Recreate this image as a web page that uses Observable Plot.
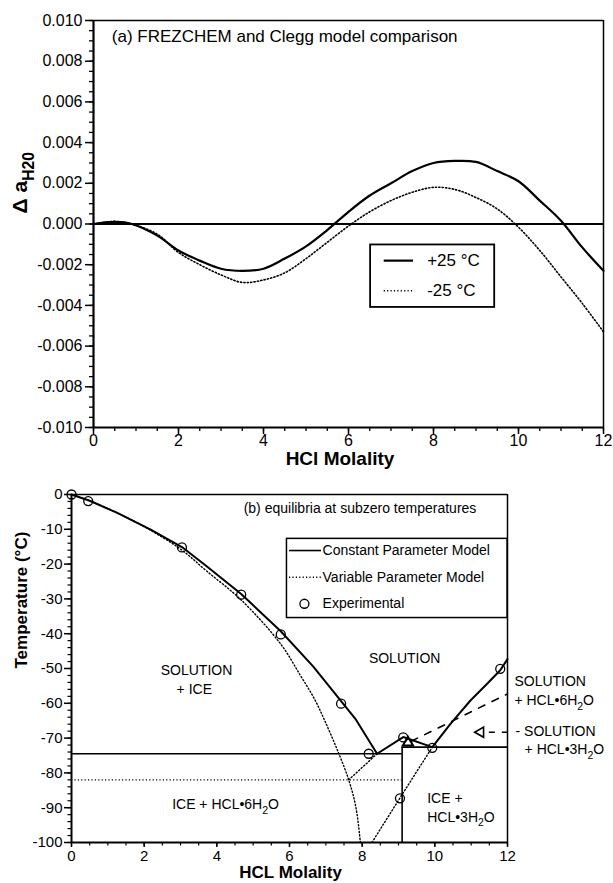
<!DOCTYPE html>
<html><head><meta charset="utf-8">
<script src="https://cdn.jsdelivr.net/npm/d3@7"></script>
<script src="https://cdn.jsdelivr.net/npm/@observablehq/plot@0.6"></script>
<style>body{margin:0;background:#fff;} #chart svg{display:block;}</style>
</head><body><div id="chart"></div>
<script>
// ---------- DATA: panel (a) ----------
const molalityA = [0, 0.5, 0.9, 1.5, 2, 2.5, 3, 3.5, 4, 4.5, 5, 5.5, 6, 6.5, 7, 7.5, 8, 8.5, 9, 9.5, 10, 10.5, 11, 11.5, 12];
const dAwPlus25 = [0, 0.0001, 0, -0.00057, -0.0013, -0.0018, -0.0022, -0.0023, -0.0022, -0.0017, -0.0011, -0.0003, 0.0006, 0.0014, 0.0020, 0.0026, 0.0030, 0.0031, 0.00305, 0.0026, 0.0021, 0.00115, 0.00016, -0.00115, -0.0023];
const dAwMinus25 = [0, 0.00013, 0, -0.0005, -0.0014, -0.0020, -0.0025, -0.00287, -0.00275, -0.0024, -0.0017, -0.0009, -0.0001, 0.0006, 0.00115, 0.00156, 0.0018, 0.0017, 0.0013, 0.00074, -0.00016, -0.0013, -0.0026, -0.0039, -0.0053];
const yTicksA = [-0.01, -0.008, -0.006, -0.004, -0.002, 0, 0.002, 0.004, 0.006, 0.008, 0.01];
const xTicks = [0, 2, 4, 6, 8, 10, 12];
const seriesA = ["+25 °C", "-25 °C"];

// ---------- DATA: panel (b) ----------
// Constant Parameter Model, ice liquidus
const constIceX = [0, 0.5, 1.26, 2.18, 3.04, 3.72, 4.67, 5.76, 6.65, 7.42, 7.83, 8.41];
const constIceT = [0, -1.8, -5.3, -10.1, -15.1, -20.6, -28.6, -39.3, -49.4, -59.4, -64.7, -74.5];
// Constant Parameter Model, hydrate liquidus
const constHydX = [8.41, 9.13, 9.93, 10.43, 10.98, 11.44, 11.8, 12];
const constHydT = [-74.5, -69.7, -72.6, -65.9, -59.2, -54.4, -50.5, -47.3];
// Variable Parameter Model
const varIceX = [0, 0.5, 1.26, 2.18, 3.04, 3.72, 4.67, 5.76, 6.3, 6.7, 6.97, 7.3, 7.63, 7.83, 7.95];
const varIceT = [0, -1.8, -5.3, -10.3, -16.0, -22, -30.3, -43, -52, -59, -65, -73, -82, -90, -100];
const var6X = [7.63, 8.41];
const var6T = [-82, -74.5];
const var3X = [8.27, 9.04, 9.93];
const var3T = [-100, -87.2, -72.6];
// metastable HCl·6H2O (dashed)
const metaX = [9.35, 12];
const metaT = [-70.9, -57.3];
// eutectic / peritectic temperatures
const eutConstT = -74.5;
const eutVarT = -82;
const peritecticT = -72.6;
const hydrateBoundaryX = 9.1;
// Experimental
const expX = [0, 0.46, 3.04, 4.67, 5.76, 7.42, 8.18, 9.13, 9.93, 9.04, 11.8];
const expT = [0, -1.9, -15.2, -28.8, -40.2, -60.1, -74.5, -69.8, -72.8, -87.3, -50.1];
const triX = [9.26];
const triT = [-71.3];
const yTicksB = [0, -10, -20, -30, -40, -50, -60, -70, -80, -90, -100];
const legendB = ["Constant Parameter Model", "Variable Parameter Model", "Experimental"];

// ---------- helpers ----------
const FONT = "'Liberation Sans', Arial, Helvetica, sans-serif";
const zip = (xs, ys) => xs.map((x, i) => ({x, y: ys[i]}));
const range = (a, b, s) => { const out = []; for (let i = 0; a + i * s <= b + 1e-9; i++) out.push(+(a + i * s).toFixed(6)); return out; };

// replace _{...} with subscript tspans
function subscripts(svg) {
  svg.querySelectorAll("text").forEach(t => {
    const s = t.textContent;
    if (!s.includes("_{")) return;
    const size = 0.75;
    const shift = 0.33;
    while (t.firstChild) t.removeChild(t.firstChild);
    const re = /_\{([^}]*)\}/g; let last = 0, m; let pendingBack = false;
    const mk = (txt) => { const e = document.createElementNS("http://www.w3.org/2000/svg", "tspan"); e.textContent = txt; t.appendChild(e); return e; };
    while ((m = re.exec(s))) {
      if (m.index > last) { const e = mk(s.slice(last, m.index)); if (pendingBack) { e.setAttribute("dy", (-shift) + "em"); pendingBack = false; } }
      const sub = mk(m[1]);
      sub.setAttribute("font-size", (size * 100) + "%");
      sub.setAttribute("dy", (shift / size) + "em");
      pendingBack = true;
      last = re.lastIndex;
    }
    if (last < s.length) { const e = mk(s.slice(last)); if (pendingBack) e.setAttribute("dy", (-shift) + "em"); }
  });
}

// ---------- panel (a) ----------
const tableA = molalityA.map((x, i) => ({x, p: dAwPlus25[i], m: dAwMinus25[i]}));
const chartA = Plot.plot({
  width: 613, height: 470,
  marginTop: 20, marginBottom: 43, marginLeft: 93, marginRight: 10,
  style: {fontFamily: FONT, fontSize: "16px", background: "white", color: "black"},
  x: {domain: [0, 12]},
  y: {domain: [-0.01, 0.01]},
  marks: [
    Plot.axisY({ticks: range(-0.01, 0.01, 0.0005), tickSize: 4, tickFormat: () => "", label: null, strokeWidth: 1.3}),
    Plot.axisY({ticks: yTicksA, tickSize: 8, tickPadding: 3, tickFormat: d => d.toFixed(3), label: null, strokeWidth: 1.5, fontSize: 16}),
    Plot.axisX({ticks: range(0, 12, 0.5), tickSize: 4, tickFormat: () => "", label: null, strokeWidth: 1.3}),
    Plot.axisX({ticks: xTicks, tickSize: 7, tickPadding: 0, label: null, strokeWidth: 1.5, fontSize: 16}),
    Plot.ruleY([0.01], {strokeWidth: 1.5}),
    Plot.ruleX([12], {strokeWidth: 1.5}),
    Plot.ruleY([-0.01], {strokeWidth: 2.2}),
    Plot.ruleX([0], {strokeWidth: 2.2}),
    Plot.ruleY([0], {strokeWidth: 2}),
    Plot.line(tableA, {x: "x", y: "p", curve: "catmull-rom", strokeWidth: 2.2}),
    Plot.line(tableA, {x: "x", y: "m", curve: "catmull-rom", strokeWidth: 1.6, strokeDasharray: "1.2,2.2"}),
    // legend
    Plot.rect([0], {x1: [6.52], x2: [9.44], y1: [-0.00103], y2: [-0.0041], fill: "white", stroke: "black", strokeWidth: 1.8}),
    Plot.ruleY([-0.0018], {x1: 6.84, x2: 7.53, strokeWidth: 2.2}),
    Plot.ruleY([-0.00328], {x1: 6.84, x2: 7.53, strokeWidth: 1.6, strokeDasharray: "1.2,2.2"}),
    Plot.text(seriesA, {x: [7.85, 7.85], y: [-0.0018, -0.00328], text: d => d, textAnchor: "start", fontSize: 17}),
    Plot.text(["(a) FREZCHEM and Clegg model comparison"], {x: [0.43], y: [0.00921], text: d => d, textAnchor: "start", fontSize: 17}),
    // axis titles
    Plot.text(["HCl Molality"], {x: [5.8], frameAnchor: "bottom", dy: 37, text: d => d, fontSize: 19, fontWeight: "bold"}),
    Plot.text(["Δ a_{H20}"], {y: [0.00052], frameAnchor: "left", dx: -73, rotate: -90, text: d => d, fontSize: 21, fontWeight: "bold"})
  ]
});

// ---------- panel (b) ----------
const chartB = Plot.plot({
  width: 613, height: 413,
  marginTop: 24, marginBottom: 41, marginLeft: 71, marginRight: 106,
  style: {fontFamily: FONT, fontSize: "15px", background: "white", color: "black", overflow: "visible"},
  x: {domain: [0, 12]},
  y: {domain: [-100, 0]},
  marks: [
    Plot.axisY({ticks: range(-100, 0, 2), tickSize: 3.5, tickFormat: () => "", label: null, strokeWidth: 1.2}),
    Plot.axisY({ticks: yTicksB, tickSize: 7, tickPadding: 2, tickFormat: d => String(d), label: null, strokeWidth: 1.5, fontSize: 15}),
    Plot.axisX({ticks: range(0, 12, 0.5), tickSize: 3.5, tickFormat: () => "", label: null, strokeWidth: 1.2}),
    Plot.axisX({ticks: xTicks, tickSize: 5, tickPadding: 3, label: null, strokeWidth: 1.5, fontSize: 15}),
    Plot.ruleY([0], {strokeWidth: 1.5}),
    Plot.ruleX([12], {strokeWidth: 1.5}),
    Plot.ruleY([-100], {strokeWidth: 2}),
    Plot.ruleX([0], {strokeWidth: 2}),
    // phase boundaries
    Plot.ruleY([eutConstT], {x1: 0, x2: hydrateBoundaryX, strokeWidth: 1.6}),
    Plot.ruleY([eutVarT], {x1: 0, x2: hydrateBoundaryX, strokeWidth: 1.4, strokeDasharray: "1.2,2.2"}),
    Plot.ruleX([hydrateBoundaryX], {y1: -100, y2: peritecticT, strokeWidth: 1.6}),
    Plot.ruleY([peritecticT], {x1: hydrateBoundaryX, x2: 12, strokeWidth: 1.6}),
    // model curves
    Plot.line(zip(varIceX, varIceT), {x: "x", y: "y", curve: "catmull-rom", strokeWidth: 1.4, strokeDasharray: "1.2,2.2"}),
    Plot.line(zip(var6X, var6T), {x: "x", y: "y", strokeWidth: 1.4, strokeDasharray: "1.2,2.2"}),
    Plot.line(zip(var3X, var3T), {x: "x", y: "y", strokeWidth: 1.4, strokeDasharray: "1.2,2.2"}),
    Plot.line(zip(constIceX, constIceT), {x: "x", y: "y", strokeWidth: 2}),
    Plot.line(zip(constHydX, constHydT), {x: "x", y: "y", strokeWidth: 2}),
    Plot.line(zip(metaX, metaT), {x: "x", y: "y", strokeWidth: 1.6, strokeDasharray: "7,8"}),
    // experimental
    Plot.dot(zip(expX, expT), {x: "x", y: "y", r: 4.5, stroke: "black", fill: "none", strokeWidth: 1.3}),
    Plot.dot(zip(triX, triT), {x: "x", y: "y", symbol: "triangle", r: 3.8, stroke: "black", fill: "none", strokeWidth: 2}),
    // pointer arrow
    Plot.dot([0], {x: [11.26], y: [-68.3], symbol: "triangle", rotate: -90, r: 3.8, stroke: "black", fill: "none", strokeWidth: 1.6}),
    Plot.ruleY([-68.3], {x1: 11.5, x2: 12.0, strokeWidth: 1.4, strokeDasharray: "6,7"}),
    // legend
    Plot.rect([0], {x1: [5.93], x2: [12], y1: [-12.75], y2: [-35.5], fill: "white", stroke: "black", strokeWidth: 1.5}),
    Plot.ruleY([-16.1], {x1: 6.0, x2: 6.88, strokeWidth: 1.6}),
    Plot.ruleY([-23.8], {x1: 6.0, x2: 6.88, strokeWidth: 1.4, strokeDasharray: "1.2,2.2"}),
    Plot.dot([0], {x: [6.41], y: [-31.4], r: 4.5, stroke: "black", fill: "none", strokeWidth: 1.3}),
    Plot.text(legendB, {x: [6.91, 6.91, 6.91], y: [-16.1, -23.8, -31.4], text: d => d, textAnchor: "start", fontSize: 14}),
    // annotations
    Plot.text(["(b) equilibria at subzero temperatures"], {x: [7.94], y: [-4.1], text: d => d, fontSize: 14}),
    Plot.text(["SOLUTION", "+ ICE"], {x: [3.44, 3.38], y: [-50.6, -56.1], text: d => d, fontSize: 14}),
    Plot.text(["SOLUTION"], {x: [9.17], y: [-47.2], text: d => d, fontSize: 14}),
    Plot.text(["ICE + HCL•6H_{2}O"], {x: [4.24], y: [-89.1], text: d => d, fontSize: 14}),
    Plot.text(["ICE +", "HCL•3H_{2}O"], {x: [9.79, 9.79], y: [-87.5, -92.7], text: d => d, textAnchor: "start", fontSize: 14}),
    Plot.text(["SOLUTION", "+ HCL•6H_{2}O", "- SOLUTION", "+ HCL•3H_{2}O"], {x: [12.19, 12.19, 12.22, 12.47], y: [-53.6, -59.2, -68.0, -73.4], text: d => d, textAnchor: "start", fontSize: 14}),
    // axis titles
    Plot.text(["HCL Molality"], {x: [6.03], frameAnchor: "bottom", dy: 35.5, text: d => d, fontSize: 17, fontWeight: "bold"}),
    Plot.text(["Temperature (°C)"], {y: [-50], frameAnchor: "left", dx: -49.5, rotate: -90, text: d => d, fontSize: 17, fontWeight: "bold"})
  ]
});

const host = document.getElementById("chart");
host.appendChild(chartA);
host.appendChild(chartB);
subscripts(chartA);
subscripts(chartB);
</script>
</body></html>
